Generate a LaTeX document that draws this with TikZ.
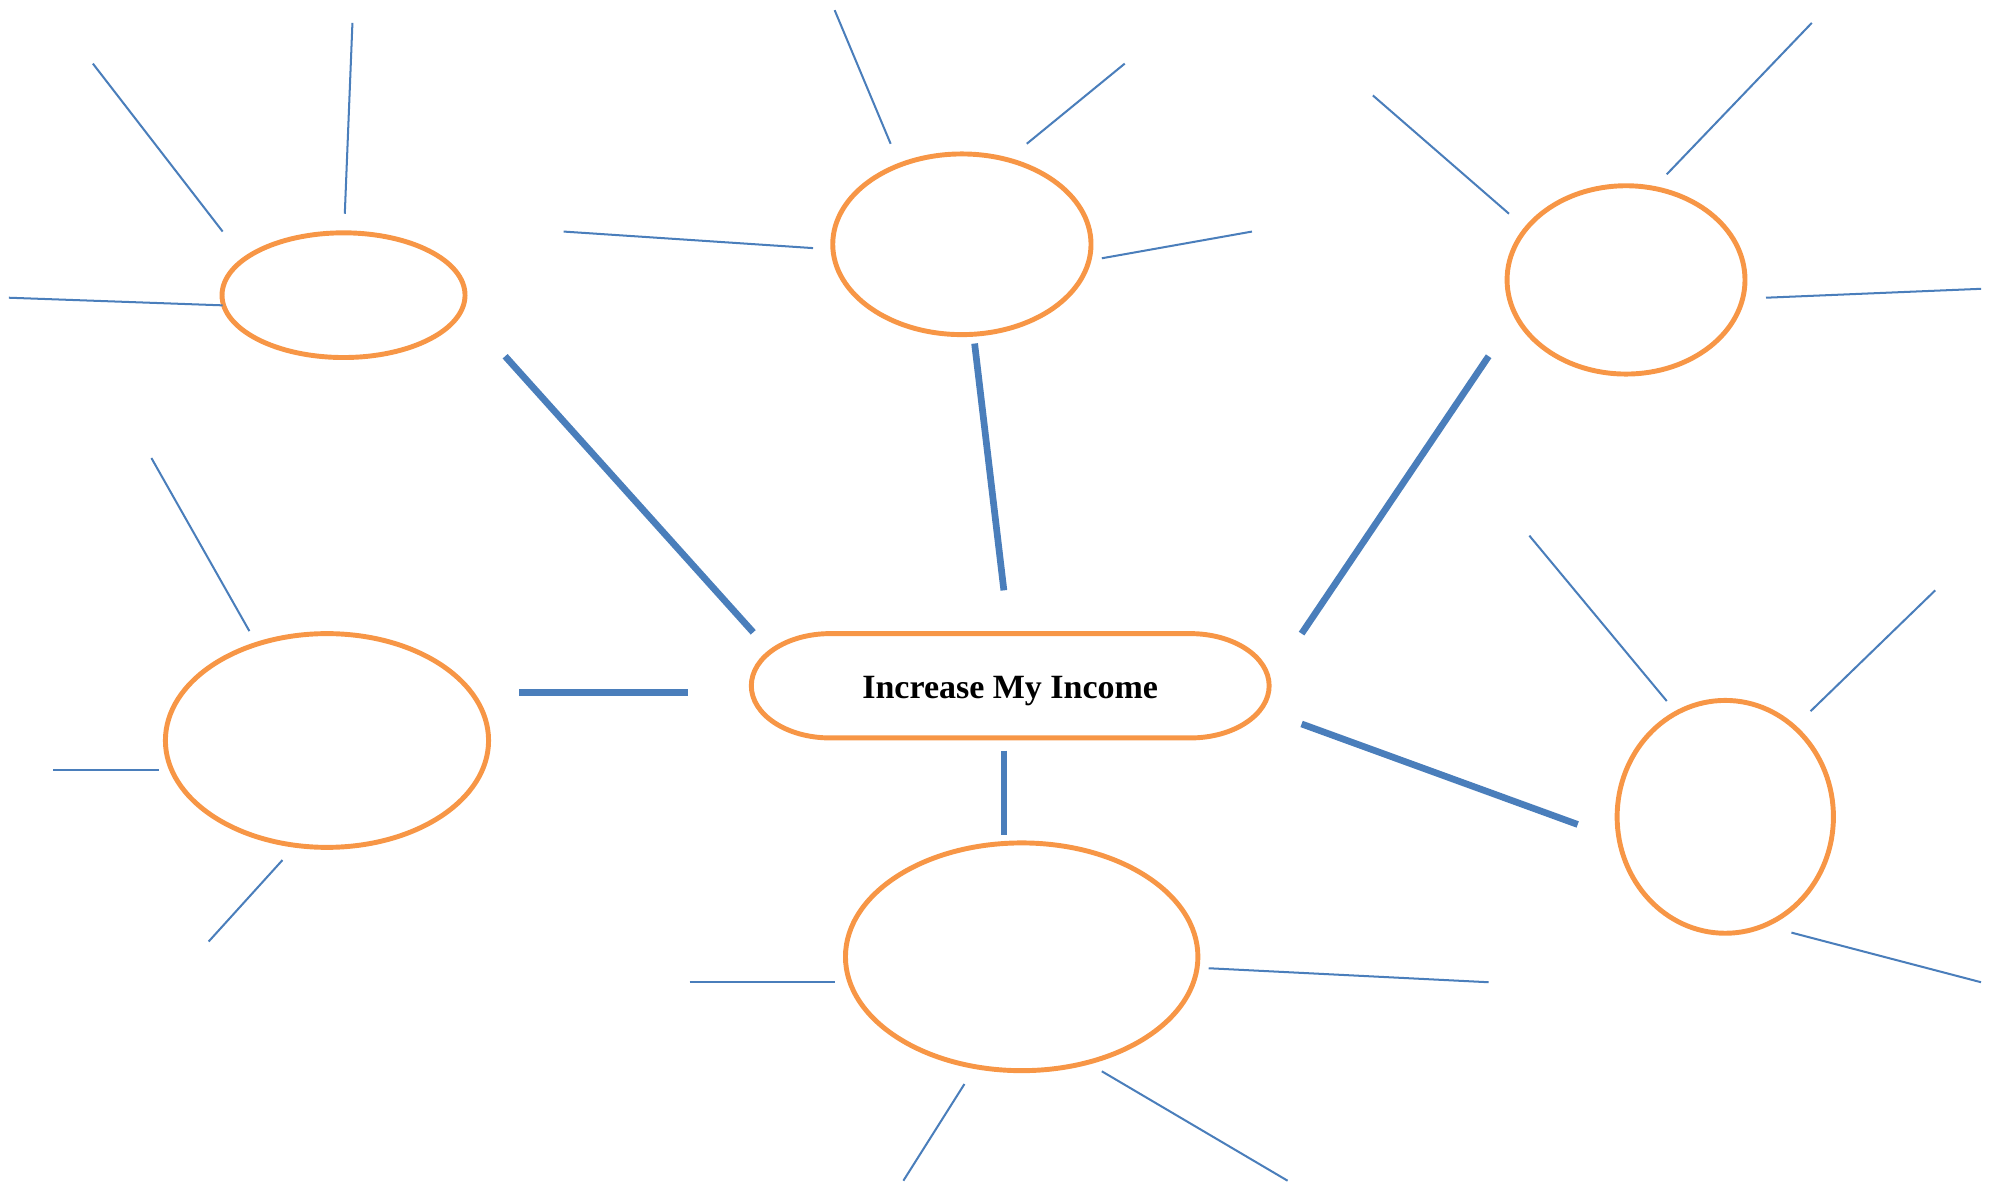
\documentclass[tikz,border=0pt]{standalone}
\usepackage{fontspec}
\setmainfont{Liberation Serif}
\usetikzlibrary{shapes.geometric}
\definecolor{ideaorange}{HTML}{F79646}
\definecolor{linkblue}{HTML}{4A7EBB}
\tikzset{
  idea/.style={draw=ideaorange, line width=1.1pt, ellipse, inner sep=0pt},
  goal/.style={minimum width=4.07cm, minimum height=0.82cm, inner sep=0pt, outer sep=0pt,
               text height=5.6pt, text depth=0pt,
               font=\bfseries\fontsize{7.6}{9}\selectfont},
  link/.style={draw=linkblue, line width=1.5pt},
  spoke/.style={draw=linkblue, line width=0.45pt}
}
\begin{document}
\begin{tikzpicture}[x=1cm,y=-1cm]
		\useasboundingbox (0,0) rectangle (15.68,9.30);

		% main goal
		\node[goal] (goal) at (7.94,5.39) {Increase My Income};
		\draw[ideaorange, line width=1.1pt]
		  ([xshift=0.62cm]goal.north west) -- ([xshift=-0.62cm]goal.north east)
		  arc[start angle=90, end angle=-90, x radius=0.62cm, y radius=0.41cm]
		  -- ([xshift=0.62cm]goal.south west)
		  arc[start angle=270, end angle=90, x radius=0.62cm, y radius=0.41cm] -- cycle;

		% ideas round it
		\node[idea, minimum width=1.91cm, minimum height=0.98cm] (tl) at (2.70,2.32) {};
		\node[idea, minimum width=2.03cm, minimum height=1.42cm] (tm) at (7.56,1.92) {};
		\node[idea, minimum width=1.87cm, minimum height=1.48cm] (tr) at (12.78,2.20) {};
		\node[idea, minimum width=2.54cm, minimum height=1.68cm] (ml) at (2.57,5.82) {};
		\node[idea, minimum width=2.77cm, minimum height=1.79cm] (bm) at (8.03,7.52) {};
		\node[idea, minimum width=1.70cm, minimum height=1.83cm] (mr) at (13.56,6.42) {};

		% links to the goal
		\coordinate (l1a) at (3.97,2.80); \coordinate (l1b) at (5.92,4.97);
		\coordinate (l2a) at (7.66,2.70); \coordinate (l2b) at (7.89,4.64);
		\coordinate (l3a) at (11.70,2.80); \coordinate (l3b) at (10.23,4.98);
		\coordinate (l4a) at (4.08,5.44); \coordinate (l4b) at (5.41,5.44);
		\coordinate (l5a) at (7.89,5.90); \coordinate (l5b) at (7.89,6.56);
		\coordinate (l6a) at (10.23,5.69); \coordinate (l6b) at (12.40,6.48);
		\draw[link] (l1a) -- (l1b);
		\draw[link] (l2a) -- (l2b);
		\draw[link] (l3a) -- (l3b);
		\draw[link] (l4a) -- (l4b);
		\draw[link] (l5a) -- (l5b);
		\draw[link] (l6a) -- (l6b);

		% spokes, top left
		\coordinate (s1a) at (0.73,0.50); \coordinate (s1b) at (1.75,1.82);
		\coordinate (s2a) at (2.77,0.18); \coordinate (s2b) at (2.71,1.68);
		\coordinate (s3a) at (0.07,2.34); \coordinate (s3b) at (1.75,2.40);
		\draw[spoke] (s1a) -- (s1b);
		\draw[spoke] (s2a) -- (s2b);
		\draw[spoke] (s3a) -- (s3b);

		% spokes, top middle
		\coordinate (s4a) at (6.56,0.08); \coordinate (s4b) at (7.00,1.13);
		\coordinate (s5a) at (8.84,0.50); \coordinate (s5b) at (8.07,1.13);
		\coordinate (s6a) at (9.84,1.82); \coordinate (s6b) at (8.66,2.03);
		\coordinate (s7a) at (4.43,1.82); \coordinate (s7b) at (6.39,1.95);
		\draw[spoke] (s4a) -- (s4b);
		\draw[spoke] (s5a) -- (s5b);
		\draw[spoke] (s6a) -- (s6b);
		\draw[spoke] (s7a) -- (s7b);

		% spokes, top right
		\coordinate (s8a) at (10.79,0.75); \coordinate (s8b) at (11.86,1.68);
		\coordinate (s9a) at (14.24,0.18); \coordinate (s9b) at (13.10,1.37);
		\coordinate (s10a) at (15.57,2.27); \coordinate (s10b) at (13.88,2.34);
		\draw[spoke] (s8a) -- (s8b);
		\draw[spoke] (s9a) -- (s9b);
		\draw[spoke] (s10a) -- (s10b);

		% spokes, left
		\coordinate (s11a) at (1.19,3.60); \coordinate (s11b) at (1.96,4.96);
		\coordinate (s12a) at (0.42,6.05); \coordinate (s12b) at (1.25,6.05);
		\coordinate (s13a) at (1.64,7.40); \coordinate (s13b) at (2.22,6.76);
		\draw[spoke] (s11a) -- (s11b);
		\draw[spoke] (s12a) -- (s12b);
		\draw[spoke] (s13a) -- (s13b);

		% spokes, bottom
		\coordinate (s14a) at (5.42,7.72); \coordinate (s14b) at (6.56,7.72);
		\coordinate (s15a) at (7.10,9.28); \coordinate (s15b) at (7.58,8.52);
		\coordinate (s16a) at (10.12,9.28); \coordinate (s16b) at (8.66,8.42);
		\coordinate (s17a) at (11.70,7.72); \coordinate (s17b) at (9.50,7.61);
		\draw[spoke] (s14a) -- (s14b);
		\draw[spoke] (s15a) -- (s15b);
		\draw[spoke] (s16a) -- (s16b);
		\draw[spoke] (s17a) -- (s17b);

		% spokes, right
		\coordinate (s18a) at (12.02,4.21); \coordinate (s18b) at (13.10,5.51);
		\coordinate (s19a) at (15.21,4.64); \coordinate (s19b) at (14.23,5.59);
		\coordinate (s20a) at (15.57,7.72); \coordinate (s20b) at (14.08,7.33);
		\draw[spoke] (s18a) -- (s18b);
		\draw[spoke] (s19a) -- (s19b);
		\draw[spoke] (s20a) -- (s20b);
		\end{tikzpicture}
\end{document}
